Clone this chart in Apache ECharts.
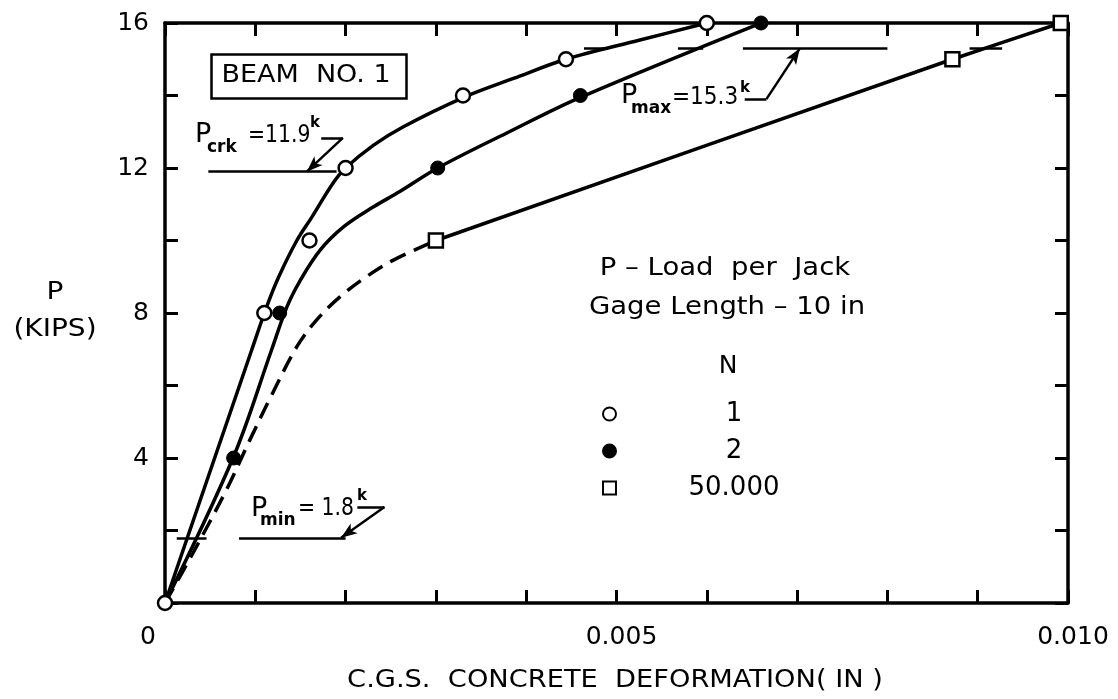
<!DOCTYPE html>
<html>
<head>
<meta charset="utf-8">
<script src="https://cdn.jsdelivr.net/npm/echarts@6/dist/echarts.min.js"></script>
<style>
  html, body { margin: 0; padding: 0; background: #fff; }
  #chart { width: 1118px; height: 699px; }
</style>
</head>
<body>
<div id="chart"></div>
<script>
// Test readings: C.G.S. concrete deformation (in) vs load per jack P (kips)
const N1_POINTS = [[0, 0], [0.0011, 8], [0.0016, 10], [0.002, 12], [0.0033, 14], [0.00444, 15], [0.006, 16]];
const N2_POINTS = [[0.00076, 4], [0.00127, 8], [0.00302, 12], [0.0046, 14], [0.0066, 16]];
const N50K_POINTS = [[0.003, 10], [0.00872, 15], [0.00992, 16]];

// Faired curves through the readings
const N1_CURVE = [[0, 0], [0.00096, 6.98], [0.00113, 8.2], [0.00126, 9.0], [0.00146, 10.0], [0.00163, 10.66],
  [0.00186, 11.58], [0.002, 12], [0.00231, 12.63], [0.00264, 13.14], [0.00331, 13.95], [0.00386, 14.47],
  [0.00444, 15], [0.00526, 15.53], [0.006, 16]];
const N2_CURVE = [[0, 0], [0.00076, 4.04], [0.00118, 6.98], [0.00135, 8.17], [0.0015, 8.91], [0.00172, 9.74],
  [0.00198, 10.38], [0.00231, 10.93], [0.0026, 11.35], [0.00302, 12], [0.00378, 12.96], [0.0046, 13.95], [0.0066, 16]];
const N50K_CURVE_DASHED = [[0, 0], [0.00031, 1.38], [0.00068, 3.12], [0.00094, 4.5], [0.00116, 5.63], [0.00146, 7.07],
  [0.00168, 7.81], [0.00194, 8.45], [0.00223, 9.0], [0.00253, 9.46], [0.003, 10]];
const N50K_CURVE_SOLID = [[0.003, 10], [0.00872, 15], [0.00992, 16]];

// Axis tick labels
const X_TICK_LABELS = [[0, '0'], [0.005, '0.005'], [0.010, '0.010']];
const Y_TICK_LABELS = [4, 8, 12, 16];

// Reference loads (kips)
const P_CRK = 11.9;
const P_MAX = 15.3;
const P_MIN = 1.8;

const FONT = 'DejaVu Sans';
const INK = '#000';
const chart = echarts.init(document.getElementById('chart'), null, { renderer: 'canvas' });

function xLabel(v) {
  const hit = X_TICK_LABELS.find(function (t) { return Math.abs(t[0] - v) < 1e-9; });
  if (!hit) return '';
  return hit[0] === 0 ? '{z|' + hit[1] + '}' : '{n|' + hit[1] + '}';
}

// straight annotation segment in data coordinates, optionally ending in an arrowhead
function seg(a, b, arrow) {
  return [
    { coord: a, symbol: 'none' },
    arrow ? { coord: b, symbol: 'arrow', symbolSize: [9, 16] } : { coord: b, symbol: 'none' }
  ];
}

// plain text placed on the canvas
function label(x, y, text, size, opts) {
  opts = opts || {};
  return {
    type: 'text', x: x, y: y, z: 10, scaleX: opts.scaleX || 1,
    style: {
      text: text, font: (opts.bold ? 'bold ' : '') + size + 'px "' + FONT + '"', fill: INK,
      align: opts.align || 'left', verticalAlign: opts.valign || 'bottom', lineHeight: opts.lineHeight
    }
  };
}

const axisCommon = {
  type: 'value',
  axisLine: { show: true, onZero: false, lineStyle: { color: INK, width: 3.5 } },
  axisTick: { show: true, inside: true, length: 13, lineStyle: { color: INK, width: 3 } },
  splitLine: { show: false }
};

const option = {
  animation: false,
  backgroundColor: '#fff',
  grid: { left: 165, right: 50, top: 23, bottom: 96 },
  xAxis: [
    Object.assign({}, axisCommon, {
      min: 0, max: 0.010, interval: 0.001, position: 'bottom',
      axisLabel: {
        show: true, margin: 22, formatter: xLabel, color: INK,
        rich: {
          z: { fontFamily: FONT, fontSize: 25, color: INK, padding: [0, 34, 0, 0] },
          n: { fontFamily: FONT, fontSize: 25, color: INK, padding: [0, 0, 0, 10] }
        }
      }
    }),
    Object.assign({}, axisCommon, {
      min: 0, max: 0.010, interval: 0.001, position: 'top',
      axisLabel: { show: false }
    })
  ],
  yAxis: [
    Object.assign({}, axisCommon, {
      min: 0, max: 16, interval: 2, position: 'left',
      axisLabel: {
        show: true, margin: 16, color: INK, fontFamily: FONT, fontSize: 25,
        formatter: function (v) { return Y_TICK_LABELS.indexOf(v) >= 0 ? String(v) : ''; }
      }
    }),
    Object.assign({}, axisCommon, {
      min: 0, max: 16, interval: 2, position: 'right',
      axisLabel: { show: false }
    })
  ],
  legend: {
    orient: 'vertical', left: 597, top: 396,
    itemWidth: 13, itemHeight: 13, itemGap: 11,
    data: ['1', '2', '50.000'],
    formatter: function (name) { return '{c|' + name + '}'; },
    textStyle: {
      color: INK, fontFamily: FONT, fontSize: 26,
      rich: { c: { width: 226, align: 'center', fontFamily: FONT, fontSize: 26, lineHeight: 24, color: INK } }
    }
  },
  series: [
    {
      name: 'curve-1', type: 'line', data: N1_CURVE, smooth: 0.35, symbol: 'none', z: 2,
      lineStyle: { color: INK, width: 3.5 },
      markLine: {
        silent: true, animation: false, symbol: ['none', 'none'],
        label: { show: false },
        lineStyle: { color: INK, width: 2.5, type: 'solid' },
        data: [
          seg([0.00048, P_CRK], [0.0019, P_CRK]),
          seg([0.0064, P_MAX], [0.008, P_MAX]),
          seg([0.00082, P_MIN], [0.002, P_MIN]),
          seg([0.00013, P_MIN], [0.00046, P_MIN]),
          seg([0.00464, P_MAX], [0.0049, P_MAX]),
          seg([0.00568, P_MAX], [0.00596, P_MAX]),
          seg([0.00891, P_MAX], [0.00927, P_MAX]),
          seg([0.00173, 12.83], [0.00197, 12.83]),
          seg([0.00197, 12.83], [0.00157, P_CRK], true),
          seg([0.00642, 13.9], [0.00666, 13.9]),
          seg([0.00666, 13.9], [0.00703, P_MAX], true),
          seg([0.00213, 2.65], [0.00243, 2.65]),
          seg([0.00243, 2.65], [0.00195, P_MIN], true)
        ]
      }
    },
    {
      name: 'curve-2', type: 'line', data: N2_CURVE, smooth: 0.35, symbol: 'none', z: 2,
      lineStyle: { color: INK, width: 3.5 }
    },
    {
      name: 'curve-50000-dashed', type: 'line', data: N50K_CURVE_DASHED, smooth: 0.35, symbol: 'none', z: 2,
      lineStyle: { color: INK, width: 3.5, type: [17, 9] }
    },
    {
      name: 'curve-50000', type: 'line', data: N50K_CURVE_SOLID, smooth: 0.2, symbol: 'none', z: 2,
      lineStyle: { color: INK, width: 3.5 }
    },
    {
      name: '1', type: 'scatter', data: N1_POINTS, symbol: 'circle', symbolSize: 14, z: 5, clip: false,
      itemStyle: { color: '#fff', borderColor: INK, borderWidth: 2.5, opacity: 1 }
    },
    {
      name: '2', type: 'scatter', data: N2_POINTS, symbol: 'circle', symbolSize: 14, z: 5, clip: false,
      itemStyle: { color: INK, borderColor: INK, borderWidth: 1, opacity: 1 }
    },
    {
      name: '50.000', type: 'scatter', data: N50K_POINTS, symbol: 'rect', symbolSize: 14, z: 5, clip: false,
      itemStyle: { color: '#fff', borderColor: INK, borderWidth: 2.5, opacity: 1 }
    }
  ],
  graphic: [
    // title box
    { type: 'rect', left: 209, top: 52, shape: { width: 195, height: 44 }, z: 10,
      style: { fill: 'none', stroke: INK, lineWidth: 2.5 } },
    label(306, 75, 'BEAM  NO. 1', 25, { align: 'center', valign: 'middle', scaleX: 1.08 }),
    // axis titles
    label(55, 311, 'P\n(KIPS)', 25, { align: 'center', valign: 'middle', lineHeight: 37, scaleX: 1.12 }),
    label(615, 680, 'C.G.S.  CONCRETE  DEFORMATION( IN )', 25, { align: 'center', valign: 'middle', scaleX: 1.09 }),
    // key
    label(725, 268, 'P – Load  per  Jack', 25, { align: 'center', valign: 'middle', scaleX: 1.1 }),
    label(727, 307, 'Gage Length – 10 in', 25, { align: 'center', valign: 'middle', scaleX: 1.1 }),
    label(728, 366, 'N', 25, { align: 'center', valign: 'middle' }),
    // P crk
    label(195, 148, 'P', 27),
    label(207, 156, 'crk', 17, { bold: true }),
    label(248, 148, '=' + P_CRK.toFixed(1), 24, { scaleX: 0.85 }),
    label(310, 131, 'k', 15, { bold: true }),
    // P max
    label(621, 109, 'P', 27),
    label(631, 117, 'max', 17, { bold: true }),
    label(672, 110, '=' + P_MAX.toFixed(1), 24, { scaleX: 0.9 }),
    label(740, 96, 'k', 15, { bold: true }),
    // P min
    label(251, 522, 'P', 27),
    label(260, 529, 'min', 17, { bold: true }),
    label(298, 521, '= ' + P_MIN.toFixed(1), 24, { scaleX: 0.85 }),
    label(357, 504, 'k', 15, { bold: true })
  ]
};

chart.setOption(option);
</script>
</body>
</html>
